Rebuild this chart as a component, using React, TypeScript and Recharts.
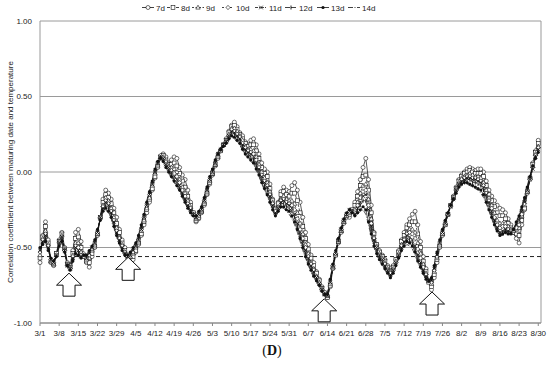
import React from "react";
import {
  LineChart,
  Line,
  XAxis,
  YAxis,
  CartesianGrid,
  ReferenceLine,
  ReferenceDot,
} from "recharts";

// weekly tick labels, 3/1 .. 8/30 (one value per day in the series)
const TICK_LABELS = [
  "3/1", "3/8", "3/15", "3/22", "3/29", "4/5", "4/12", "4/19", "4/26",
  "5/3", "5/10", "5/17", "5/24", "5/31", "6/7", "6/14", "6/21", "6/28",
  "7/5", "7/12", "7/19", "7/26", "8/2", "8/9", "8/16", "8/23", "8/30",
];

const SERIES_NAMES = ["7d", "8d", "9d", "10d", "11d", "12d", "13d", "14d"];

const d7 = [
  -0.60, -0.42, -0.33, -0.45, -0.60, -0.62, -0.54, -0.45, -0.40, -0.50,
  -0.60, -0.62, -0.52, -0.40, -0.38, -0.46, -0.55, -0.60, -0.63, -0.56,
  -0.50, -0.42, -0.30, -0.18, -0.12, -0.14, -0.18, -0.24, -0.30, -0.38,
  -0.45, -0.50, -0.55, -0.57, -0.58, -0.53, -0.48, -0.42, -0.35, -0.27,
  -0.20, -0.12, -0.04, 0.03, 0.09, 0.12, 0.10, 0.06, 0.08, 0.10,
  0.09, 0.03, -0.02, -0.05, -0.12, -0.20, -0.27, -0.33, -0.31, -0.27,
  -0.22, -0.15, -0.08, -0.02, 0.04, 0.09, 0.14, 0.18, 0.22, 0.27,
  0.31, 0.33, 0.30, 0.26, 0.24, 0.20, 0.18, 0.21, 0.22, 0.18,
  0.12, 0.06, 0.02, 0.00, -0.08, -0.18, -0.24, -0.20, -0.13, -0.10,
  -0.12, -0.13, -0.09, -0.07, -0.12, -0.20, -0.30, -0.40, -0.48, -0.55,
  -0.60, -0.66, -0.71, -0.76, -0.80, -0.83, -0.76, -0.64, -0.55, -0.47,
  -0.40, -0.34, -0.30, -0.30, -0.26, -0.20, -0.13, -0.05, 0.03, 0.09,
  -0.05, -0.22, -0.40, -0.48, -0.52, -0.55, -0.58, -0.62, -0.64, -0.62,
  -0.58, -0.52, -0.45, -0.40, -0.35, -0.31, -0.28, -0.26, -0.35, -0.46,
  -0.56, -0.64, -0.72, -0.78, -0.70, -0.60, -0.50, -0.42, -0.35, -0.28,
  -0.22, -0.16, -0.10, -0.05, -0.02, 0.00, 0.02, 0.03, 0.02, 0.01,
  0.02, 0.02, 0.00, -0.06, -0.12, -0.16, -0.19, -0.22, -0.24, -0.25,
  -0.27, -0.31, -0.35, -0.40, -0.44, -0.47, -0.35, -0.25, -0.14, -0.04,
  0.06, 0.14, 0.21,
];

const d8 = [
  -0.57, -0.43, -0.36, -0.47, -0.59, -0.61, -0.54, -0.46, -0.41, -0.51,
  -0.61, -0.63, -0.54, -0.44, -0.43, -0.50, -0.56, -0.59, -0.60, -0.54,
  -0.49, -0.41, -0.30, -0.20, -0.15, -0.17, -0.21, -0.27, -0.34, -0.40,
  -0.47, -0.52, -0.55, -0.56, -0.56, -0.52, -0.47, -0.41, -0.33, -0.25,
  -0.18, -0.11, -0.03, 0.04, 0.10, 0.11, 0.08, 0.05, 0.05, 0.06,
  0.04, -0.01, -0.06, -0.10, -0.16, -0.22, -0.27, -0.32, -0.30, -0.26,
  -0.21, -0.14, -0.07, -0.01, 0.05, 0.10, 0.14, 0.18, 0.21, 0.26,
  0.30, 0.31, 0.28, 0.25, 0.22, 0.19, 0.17, 0.18, 0.18, 0.14,
  0.09, 0.03, -0.01, -0.03, -0.11, -0.19, -0.25, -0.21, -0.15, -0.13,
  -0.15, -0.16, -0.14, -0.14, -0.19, -0.27, -0.36, -0.44, -0.51, -0.57,
  -0.62, -0.67, -0.72, -0.77, -0.80, -0.83, -0.75, -0.63, -0.55, -0.46,
  -0.39, -0.33, -0.29, -0.28, -0.25, -0.22, -0.16, -0.09, -0.03, -0.02,
  -0.12, -0.27, -0.41, -0.48, -0.53, -0.56, -0.59, -0.63, -0.65, -0.63,
  -0.58, -0.53, -0.46, -0.42, -0.37, -0.35, -0.33, -0.33, -0.41, -0.50,
  -0.59, -0.66, -0.73, -0.76, -0.68, -0.58, -0.49, -0.41, -0.35, -0.28,
  -0.22, -0.17, -0.11, -0.06, -0.03, -0.01, 0.00, 0.01, 0.00, -0.01,
  -0.01, -0.01, -0.03, -0.09, -0.15, -0.19, -0.23, -0.27, -0.29, -0.29,
  -0.31, -0.34, -0.37, -0.40, -0.41, -0.42, -0.32, -0.24, -0.13, -0.04,
  0.05, 0.13, 0.19,
];

const d9 = [
  -0.55, -0.44, -0.39, -0.48, -0.59, -0.61, -0.55, -0.46, -0.42, -0.51,
  -0.61, -0.63, -0.55, -0.47, -0.47, -0.53, -0.55, -0.58, -0.57, -0.52,
  -0.48, -0.41, -0.30, -0.22, -0.17, -0.19, -0.24, -0.30, -0.37, -0.43,
  -0.48, -0.53, -0.56, -0.56, -0.54, -0.50, -0.46, -0.39, -0.32, -0.24,
  -0.17, -0.09, -0.01, 0.05, 0.10, 0.10, 0.07, 0.04, 0.03, 0.02,
  0.00, -0.05, -0.10, -0.14, -0.19, -0.23, -0.28, -0.31, -0.29, -0.26,
  -0.20, -0.13, -0.06, -0.01, 0.05, 0.11, 0.15, 0.18, 0.21, 0.25,
  0.29, 0.29, 0.27, 0.24, 0.21, 0.17, 0.15, 0.15, 0.14, 0.10,
  0.05, 0.00, -0.04, -0.07, -0.13, -0.20, -0.26, -0.23, -0.18, -0.16,
  -0.18, -0.19, -0.19, -0.21, -0.27, -0.34, -0.41, -0.48, -0.54, -0.60,
  -0.64, -0.69, -0.73, -0.77, -0.81, -0.82, -0.74, -0.63, -0.54, -0.46,
  -0.39, -0.33, -0.29, -0.27, -0.26, -0.25, -0.20, -0.14, -0.09, -0.08,
  -0.18, -0.31, -0.43, -0.49, -0.54, -0.57, -0.60, -0.64, -0.66, -0.64,
  -0.59, -0.54, -0.48, -0.44, -0.40, -0.38, -0.38, -0.40, -0.47, -0.54,
  -0.61, -0.67, -0.72, -0.74, -0.66, -0.57, -0.48, -0.41, -0.34, -0.28,
  -0.22, -0.17, -0.11, -0.07, -0.04, -0.03, -0.02, -0.01, -0.02, -0.03,
  -0.03, -0.04, -0.07, -0.12, -0.17, -0.22, -0.27, -0.32, -0.34, -0.34,
  -0.34, -0.36, -0.38, -0.39, -0.38, -0.37, -0.29, -0.22, -0.13, -0.04,
  0.04, 0.12, 0.17,
];

const d10 = [
  -0.53, -0.45, -0.41, -0.49, -0.58, -0.60, -0.55, -0.47, -0.43, -0.52,
  -0.62, -0.64, -0.56, -0.49, -0.50, -0.55, -0.54, -0.57, -0.55, -0.51,
  -0.47, -0.40, -0.30, -0.23, -0.19, -0.21, -0.26, -0.32, -0.39, -0.44,
  -0.49, -0.53, -0.56, -0.55, -0.53, -0.49, -0.45, -0.38, -0.30, -0.22,
  -0.15, -0.08, 0.00, 0.06, 0.11, 0.09, 0.05, 0.03, 0.01, -0.01,
  -0.03, -0.07, -0.12, -0.16, -0.21, -0.24, -0.28, -0.30, -0.28, -0.25,
  -0.19, -0.12, -0.05, 0.00, 0.06, 0.12, 0.15, 0.18, 0.20, 0.24,
  0.28, 0.27, 0.25, 0.23, 0.19, 0.16, 0.14, 0.13, 0.12, 0.08,
  0.03, -0.02, -0.06, -0.09, -0.15, -0.21, -0.26, -0.24, -0.19, -0.18,
  -0.20, -0.21, -0.22, -0.25, -0.31, -0.38, -0.44, -0.50, -0.56, -0.61,
  -0.65, -0.70, -0.74, -0.78, -0.81, -0.82, -0.73, -0.62, -0.54, -0.45,
  -0.38, -0.32, -0.28, -0.26, -0.26, -0.27, -0.22, -0.17, -0.13, -0.12,
  -0.22, -0.34, -0.44, -0.50, -0.55, -0.58, -0.61, -0.65, -0.67, -0.65,
  -0.60, -0.55, -0.49, -0.45, -0.41, -0.40, -0.41, -0.44, -0.51, -0.57,
  -0.63, -0.68, -0.72, -0.73, -0.65, -0.56, -0.47, -0.40, -0.34, -0.28,
  -0.23, -0.18, -0.12, -0.08, -0.05, -0.04, -0.03, -0.03, -0.04, -0.04,
  -0.05, -0.06, -0.09, -0.14, -0.19, -0.24, -0.30, -0.35, -0.37, -0.36,
  -0.36, -0.38, -0.39, -0.39, -0.37, -0.35, -0.28, -0.21, -0.12, -0.05,
  0.03, 0.11, 0.16,
];

const d11 = [
  -0.52, -0.46, -0.42, -0.50, -0.58, -0.60, -0.55, -0.47, -0.43, -0.52,
  -0.62, -0.64, -0.57, -0.50, -0.52, -0.56, -0.55, -0.57, -0.54, -0.50,
  -0.47, -0.40, -0.30, -0.24, -0.20, -0.22, -0.27, -0.33, -0.40, -0.45,
  -0.50, -0.54, -0.56, -0.55, -0.52, -0.49, -0.45, -0.38, -0.30, -0.22,
  -0.15, -0.08, 0.00, 0.06, 0.10, 0.09, 0.05, 0.03, 0.00, -0.03,
  -0.05, -0.09, -0.14, -0.18, -0.22, -0.25, -0.28, -0.30, -0.28, -0.25,
  -0.19, -0.12, -0.05, 0.00, 0.06, 0.12, 0.15, 0.18, 0.20, 0.24,
  0.27, 0.26, 0.24, 0.22, 0.18, 0.15, 0.13, 0.12, 0.10, 0.06,
  0.02, -0.03, -0.07, -0.10, -0.16, -0.22, -0.27, -0.24, -0.20, -0.19,
  -0.21, -0.22, -0.24, -0.28, -0.34, -0.40, -0.46, -0.52, -0.57, -0.62,
  -0.66, -0.70, -0.74, -0.78, -0.81, -0.82, -0.73, -0.62, -0.54, -0.45,
  -0.38, -0.32, -0.28, -0.25, -0.26, -0.28, -0.24, -0.20, -0.16, -0.15,
  -0.25, -0.36, -0.45, -0.50, -0.55, -0.58, -0.62, -0.65, -0.68, -0.65,
  -0.60, -0.55, -0.50, -0.46, -0.42, -0.43, -0.45, -0.49, -0.55, -0.60,
  -0.65, -0.69, -0.72, -0.72, -0.64, -0.55, -0.47, -0.40, -0.34, -0.28,
  -0.23, -0.18, -0.12, -0.08, -0.06, -0.05, -0.04, -0.04, -0.05, -0.05,
  -0.06, -0.07, -0.10, -0.15, -0.20, -0.26, -0.32, -0.37, -0.40, -0.39,
  -0.38, -0.39, -0.40, -0.38, -0.35, -0.32, -0.26, -0.20, -0.12, -0.05,
  0.02, 0.10, 0.15,
];

const d12 = [
  -0.51, -0.47, -0.44, -0.51, -0.58, -0.59, -0.56, -0.48, -0.44, -0.52,
  -0.62, -0.64, -0.58, -0.52, -0.53, -0.56, -0.55, -0.56, -0.53, -0.50,
  -0.46, -0.39, -0.31, -0.25, -0.22, -0.24, -0.28, -0.34, -0.41, -0.46,
  -0.51, -0.54, -0.56, -0.54, -0.51, -0.48, -0.44, -0.37, -0.29, -0.21,
  -0.14, -0.07, 0.01, 0.06, 0.10, 0.08, 0.04, 0.01, -0.02, -0.05,
  -0.07, -0.11, -0.15, -0.19, -0.23, -0.26, -0.28, -0.30, -0.27, -0.24,
  -0.18, -0.11, -0.04, 0.01, 0.07, 0.12, 0.15, 0.18, 0.20, 0.23,
  0.26, 0.25, 0.23, 0.21, 0.17, 0.14, 0.12, 0.10, 0.08, 0.04,
  0.00, -0.05, -0.09, -0.12, -0.18, -0.23, -0.28, -0.25, -0.21, -0.21,
  -0.23, -0.24, -0.26, -0.30, -0.36, -0.42, -0.48, -0.54, -0.59, -0.63,
  -0.67, -0.71, -0.75, -0.78, -0.81, -0.81, -0.72, -0.62, -0.53, -0.45,
  -0.38, -0.32, -0.28, -0.25, -0.26, -0.28, -0.25, -0.22, -0.19, -0.19,
  -0.28, -0.38, -0.47, -0.52, -0.56, -0.59, -0.63, -0.66, -0.69, -0.66,
  -0.61, -0.56, -0.51, -0.47, -0.44, -0.45, -0.47, -0.51, -0.57, -0.61,
  -0.66, -0.70, -0.72, -0.71, -0.63, -0.54, -0.46, -0.39, -0.33, -0.27,
  -0.22, -0.18, -0.13, -0.09, -0.07, -0.06, -0.05, -0.05, -0.07, -0.07,
  -0.08, -0.09, -0.12, -0.17, -0.22, -0.28, -0.33, -0.38, -0.41, -0.40,
  -0.39, -0.40, -0.40, -0.38, -0.34, -0.30, -0.24, -0.18, -0.11, -0.04,
  0.03, 0.10, 0.14,
];

const d13 = [
  -0.50, -0.48, -0.46, -0.52, -0.57, -0.59, -0.56, -0.49, -0.46, -0.53,
  -0.62, -0.65, -0.59, -0.54, -0.55, -0.57, -0.55, -0.55, -0.52, -0.49,
  -0.45, -0.38, -0.32, -0.26, -0.24, -0.26, -0.30, -0.36, -0.42, -0.47,
  -0.52, -0.55, -0.55, -0.53, -0.50, -0.47, -0.42, -0.35, -0.28, -0.20,
  -0.13, -0.06, 0.02, 0.07, 0.09, 0.07, 0.03, 0.00, -0.03, -0.06,
  -0.09, -0.12, -0.16, -0.20, -0.24, -0.27, -0.29, -0.29, -0.26, -0.23,
  -0.17, -0.10, -0.03, 0.02, 0.08, 0.12, 0.15, 0.17, 0.19, 0.22,
  0.24, 0.23, 0.21, 0.19, 0.15, 0.12, 0.10, 0.08, 0.06, 0.02,
  -0.02, -0.07, -0.11, -0.15, -0.20, -0.25, -0.29, -0.26, -0.23, -0.23,
  -0.25, -0.26, -0.29, -0.33, -0.38, -0.44, -0.50, -0.56, -0.61, -0.65,
  -0.69, -0.72, -0.75, -0.79, -0.81, -0.81, -0.71, -0.61, -0.52, -0.44,
  -0.37, -0.31, -0.27, -0.25, -0.27, -0.29, -0.27, -0.25, -0.23, -0.25,
  -0.33, -0.41, -0.49, -0.54, -0.58, -0.61, -0.64, -0.67, -0.70, -0.67,
  -0.62, -0.57, -0.52, -0.49, -0.46, -0.47, -0.49, -0.53, -0.59, -0.63,
  -0.67, -0.71, -0.72, -0.70, -0.62, -0.53, -0.45, -0.38, -0.32, -0.27,
  -0.22, -0.18, -0.14, -0.10, -0.08, -0.07, -0.07, -0.08, -0.09, -0.10,
  -0.11, -0.12, -0.15, -0.20, -0.25, -0.30, -0.35, -0.39, -0.42, -0.41,
  -0.40, -0.41, -0.41, -0.38, -0.33, -0.29, -0.23, -0.17, -0.10, -0.03,
  0.04, 0.09, 0.13,
];

const d14 = [
  -0.50, -0.48, -0.47, -0.52, -0.57, -0.58, -0.56, -0.50, -0.47, -0.53,
  -0.62, -0.65, -0.60, -0.55, -0.56, -0.57, -0.55, -0.55, -0.52, -0.49,
  -0.45, -0.38, -0.32, -0.27, -0.25, -0.27, -0.31, -0.37, -0.43, -0.48,
  -0.52, -0.55, -0.55, -0.53, -0.50, -0.46, -0.41, -0.34, -0.27, -0.19,
  -0.12, -0.05, 0.02, 0.07, 0.09, 0.07, 0.03, -0.01, -0.04, -0.07,
  -0.10, -0.13, -0.17, -0.21, -0.24, -0.27, -0.29, -0.29, -0.26, -0.22,
  -0.16, -0.09, -0.03, 0.02, 0.08, 0.12, 0.15, 0.17, 0.19, 0.21,
  0.23, 0.22, 0.20, 0.18, 0.14, 0.11, 0.09, 0.07, 0.05, 0.01,
  -0.03, -0.08, -0.12, -0.16, -0.21, -0.26, -0.29, -0.27, -0.24, -0.24,
  -0.26, -0.28, -0.31, -0.35, -0.40, -0.46, -0.52, -0.57, -0.62, -0.66,
  -0.70, -0.73, -0.76, -0.79, -0.81, -0.80, -0.71, -0.61, -0.52, -0.44,
  -0.37, -0.31, -0.27, -0.25, -0.27, -0.29, -0.28, -0.26, -0.25, -0.28,
  -0.35, -0.43, -0.50, -0.55, -0.59, -0.62, -0.65, -0.68, -0.70, -0.67,
  -0.62, -0.57, -0.53, -0.50, -0.48, -0.49, -0.51, -0.55, -0.60, -0.64,
  -0.68, -0.71, -0.72, -0.70, -0.62, -0.53, -0.45, -0.38, -0.32, -0.27,
  -0.22, -0.18, -0.14, -0.11, -0.09, -0.08, -0.08, -0.09, -0.10, -0.11,
  -0.12, -0.14, -0.17, -0.21, -0.26, -0.31, -0.36, -0.40, -0.42, -0.42,
  -0.41, -0.41, -0.41, -0.38, -0.33, -0.28, -0.22, -0.16, -0.09, -0.02,
  0.04, 0.09, 0.12,
];

const SERIES_VALUES = [d7, d8, d9, d10, d11, d12, d13, d14];

// significance threshold (dashed line)
const THRESHOLD = -0.56;

// arrows: day index of tip and value at tip
const ARROW_DAYS = [10.6, 32.2, 103.8, 143.2];
const ARROW_TIPS = [-0.67, -0.565, -0.84, -0.795];

const Y_TICKS = [-1, -0.5, 0, 0.5, 1];

type Kind = "circle" | "square" | "triangle" | "diamond" | "cross" | "bar" | "dot" | "none";

const STYLES: { kind: Kind; dash?: string }[] = [
  { kind: "circle" },
  { kind: "square", dash: "3 1.5" },
  { kind: "triangle", dash: "2 1.5" },
  { kind: "diamond", dash: "2 2" },
  { kind: "cross", dash: "3 1 1 1" },
  { kind: "bar", dash: "5 1" },
  { kind: "dot" },
  { kind: "none", dash: "5 1.5 1 1.5" },
];

const INK = "#111";

const marker = (kind: Kind, cx: number, cy: number, key?: string) => {
  const sw = 0.6;
  switch (kind) {
    case "circle":
      return <circle key={key} cx={cx} cy={cy} r={2} fill="#fff" stroke={INK} strokeWidth={sw} />;
    case "square":
      return <rect key={key} x={cx - 1.9} y={cy - 1.9} width={3.8} height={3.8} fill="#fff" stroke={INK} strokeWidth={sw} />;
    case "triangle":
      return (
        <path key={key} d={`M${cx},${cy - 2.3}L${cx + 2.2},${cy + 1.6}L${cx - 2.2},${cy + 1.6}Z`} fill="#fff" stroke={INK} strokeWidth={sw} />
      );
    case "diamond":
      return (
        <path key={key} d={`M${cx},${cy - 2.2}L${cx + 2},${cy}L${cx},${cy + 2.2}L${cx - 2},${cy}Z`} fill="#fff" stroke={INK} strokeWidth={sw} />
      );
    case "cross":
      return (
        <path key={key} d={`M${cx - 1.8},${cy - 1.8}L${cx + 1.8},${cy + 1.8}M${cx - 1.8},${cy + 1.8}L${cx + 1.8},${cy - 1.8}`} stroke={INK} strokeWidth={0.8} />
      );
    case "bar":
      return <path key={key} d={`M${cx},${cy - 2}L${cx},${cy + 2}`} stroke={INK} strokeWidth={0.9} />;
    case "dot":
      return <circle key={key} cx={cx} cy={cy} r={1.6} fill={INK} />;
    default:
      return <g key={key} />;
  }
};

const makeDot = (kind: Kind, name: string) => (p: any) => {
  const k = `${name}-${p.index}`;
  if (p.cx == null || p.cy == null) return <g key={k} />;
  return marker(kind, p.cx, p.cy, k);
};

const data = d7.map((_, i) => {
  const row: Record<string, number> = { day: i };
  SERIES_NAMES.forEach((n, s) => {
    row[n] = SERIES_VALUES[s][i];
  });
  return row;
});

const xTicks = TICK_LABELS.map((_, i) => i * 7);

const Arrow = (props: any) => {
  const { cx, cy } = props;
  if (cx == null || cy == null) return <g />;
  const d = `M${cx},${cy} L${cx + 12.5},${cy + 12} L${cx + 6},${cy + 12} L${cx + 6},${cy + 23} L${cx - 6},${cy + 23} L${cx - 6},${cy + 12} L${cx - 12.5},${cy + 12} Z`;
  return <path d={d} fill="#fff" stroke="#111" strokeWidth={1} />;
};

const LEGEND_X = [142, 167, 192, 222, 255, 285, 317, 348];

const FONT = "'Liberation Sans', Arial, sans-serif";

export default function App() {
  return (
    <div style={{ position: "absolute", left: 0, top: 0, width: 550, height: 365, background: "#fff" }}>
      <LineChart
        width={550}
        height={365}
        data={data}
        margin={{ top: 21, right: 9, bottom: 22, left: 10 }}
        style={{ fontFamily: FONT }}
      >
        <CartesianGrid vertical={false} stroke="#9a9a9a" strokeWidth={1} />
        <XAxis
          dataKey="day"
          type="number"
          domain={[0, 183]}
          ticks={xTicks}
          interval={0}
          height={20}
          tickFormatter={(v: number) => TICK_LABELS[Math.round(v / 7)]}
          tick={{ fontSize: 8, fill: "#222" }}
          axisLine={{ stroke: "#888" }}
          tickLine={{ stroke: "#888" }}
          tickSize={3}
          tickMargin={4}
        />
        <YAxis
          domain={[-1, 1]}
          ticks={Y_TICKS}
          width={30}
          tickFormatter={(v: number) => v.toFixed(2)}
          tick={{ fontSize: 8, fill: "#222" }}
          axisLine={{ stroke: "#999" }}
          tickLine={false}
          tickSize={0}
          tickMargin={8}
        />
        <ReferenceLine x={183} stroke="#999" />
        <ReferenceLine y={THRESHOLD} stroke="#222" strokeDasharray="4 3" strokeWidth={1} />
        {SERIES_NAMES.map((n, s) => (
          <Line
            key={n}
            dataKey={n}
            type="linear"
            stroke={INK}
            strokeWidth={0.7}
            strokeDasharray={STYLES[s].dash}
            dot={STYLES[s].kind === "none" ? false : makeDot(STYLES[s].kind, n)}
            activeDot={false}
            isAnimationActive={false}
          />
        ))}
        {ARROW_DAYS.map((d, i) => (
          <ReferenceDot key={i} x={d} y={ARROW_TIPS[i]} r={0} shape={Arrow} ifOverflow="visible" />
        ))}
      </LineChart>
      <svg
        width={550}
        height={365}
        style={{ position: "absolute", left: 0, top: 0, pointerEvents: "none" }}
      >
        {SERIES_NAMES.map((n, s) => {
          const x = LEGEND_X[s];
          return (
            <g key={n}>
              <line x1={x} x2={x + 12} y1={7.5} y2={7.5} stroke={INK} strokeWidth={0.8} strokeDasharray={STYLES[s].dash} />
              {marker(STYLES[s].kind, x + 6, 7.5)}
              <text x={x + 14} y={10.5} fontSize={8} fill="#222" fontFamily={FONT}>
                {n}
              </text>
            </g>
          );
        })}
        <text
          x={10}
          y={172}
          transform="rotate(-90 10 172)"
          textAnchor="middle"
          dominantBaseline="central"
          fontSize={8}
          fill="#222"
          fontFamily={FONT}
        >
          Correlation coefficient between maturing date and temperature
        </text>
        <text x={272} y={355} textAnchor="middle" fontSize={14} fill="#111" fontFamily="'Liberation Serif', 'Times New Roman', serif">
          (<tspan fontWeight="bold">D</tspan>)
        </text>
      </svg>
    </div>
  );
}
